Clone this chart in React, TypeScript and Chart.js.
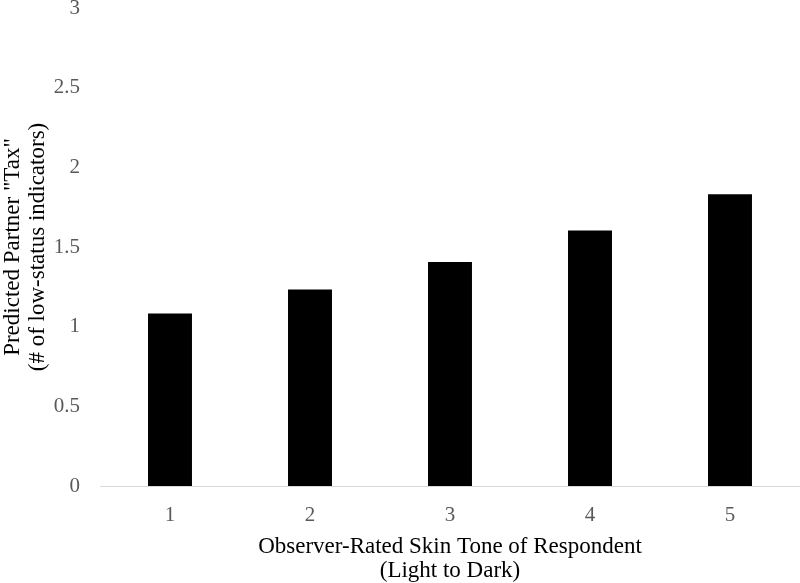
import React, { useEffect, useRef } from "react";
import { Chart, registerables } from "chart.js";

Chart.register(...registerables);

const categories = ["1", "2", "3", "4", "5"];
const values = [1.082, 1.233, 1.406, 1.603, 1.831];
const yTicks = [0, 0.5, 1, 1.5, 2, 2.5, 3];
const xTitle = ["Observer-Rated Skin Tone of Respondent", "(Light to Dark)"];
const yTitle = ["Predicted Partner \"Tax\"", "(# of low-status indicators)"];

export default function App() {
  const ref = useRef<HTMLCanvasElement | null>(null);
  useEffect(() => {
    document.body.style.margin = "0";
    const ctx = ref.current!;
    const font = "'Liberation Serif', 'Times New Roman', serif";
    const chart = new Chart(ctx, {
      type: "bar",
      data: {
        labels: categories,
        datasets: [
          {
            data: values,
            backgroundColor: "#000000",
            borderWidth: 0,
            categoryPercentage: 1,
            barPercentage: 0.314,
          },
        ],
      },
      options: {
        animation: false,
        responsive: false,
        maintainAspectRatio: false,
        layout: { padding: { top: 8, right: 0, left: 0, bottom: 0 } },
        plugins: { legend: { display: false }, tooltip: { enabled: false } },
        scales: {
          x: {
            grid: { display: false, drawTicks: false },
            border: { display: true, color: "#d9d9d9", width: 1 },
            ticks: { color: "#595959", font: { family: font, size: 21 }, padding: 17 },
            title: {
              display: true,
              text: xTitle,
              color: "#000000",
              font: { family: font, size: 23, lineHeight: 1.043 },
              padding: { top: 0, bottom: 0 },
            },
            afterFit: (s: any) => {
              s.height = 97;
              s.paddingLeft = 0;
              s.paddingRight = 0;
            },
          },
          y: {
            min: 0,
            max: 3,
            afterBuildTicks: (s: any) => {
              s.ticks = yTicks.map((v) => ({ value: v }));
            },
            grid: { display: false, drawTicks: false },
            border: { display: false },
            ticks: {
              color: "#595959",
              font: { family: font, size: 21 },
              padding: 20,
              callback: (v: any) => String(Number(v)),
            },
            title: {
              display: true,
              text: yTitle,
              color: "#000000",
              font: { family: font, size: 23, lineHeight: 1.087 },
              padding: { top: 0, bottom: 0 },
            },
            afterFit: (s: any) => {
              s.width = 100;
              s.paddingTop = 0;
              s.paddingBottom = 0;
            },
          },
        },
      },
    });
    return () => chart.destroy();
  }, []);
  return (
    <div style={{ position: "fixed", left: 0, top: 0, width: 800, height: 583, background: "#fff" }}>
      <canvas ref={ref} width={800} height={583} style={{ width: 800, height: 583 }} />
    </div>
  );
}
